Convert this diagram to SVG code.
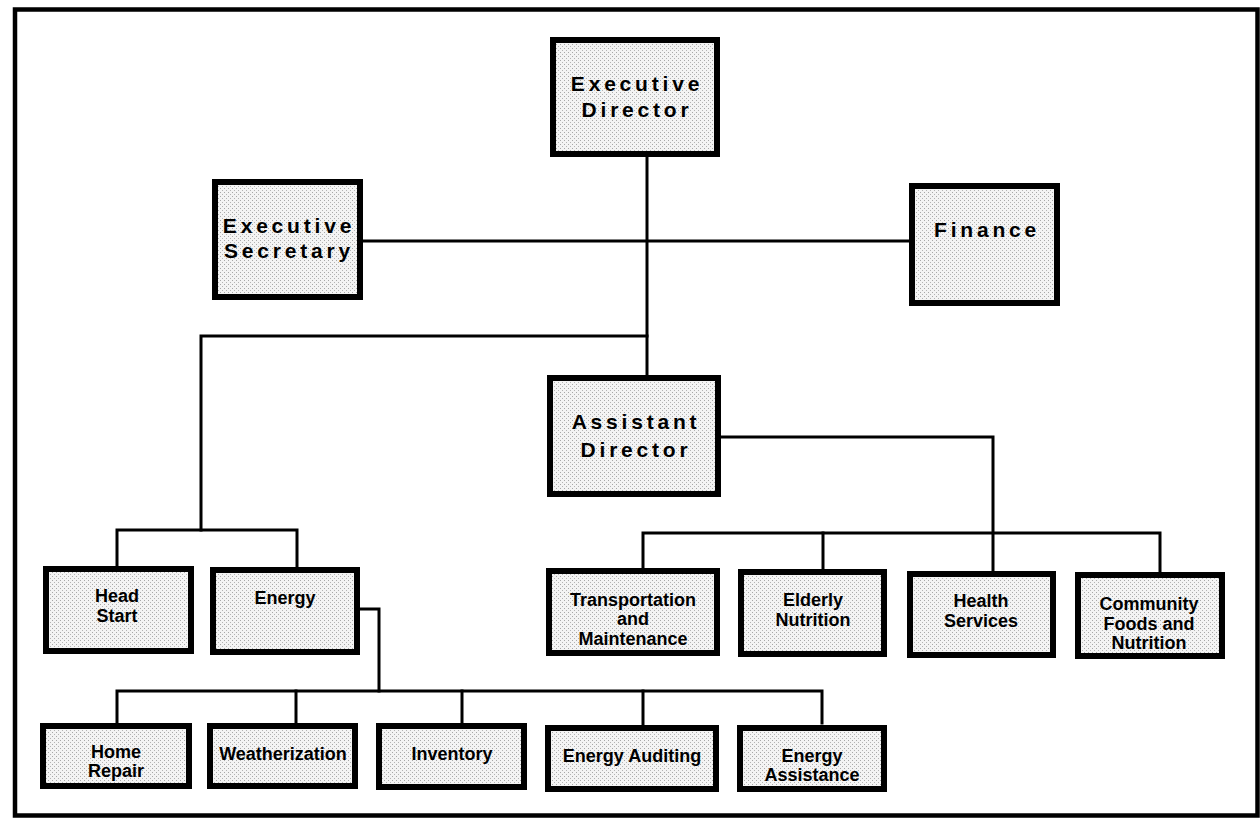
<svg xmlns="http://www.w3.org/2000/svg" width="1260" height="818" viewBox="0 0 1260 818">
<style>
.box{fill:url(#stip);stroke:#000;stroke-width:6}
.frame{fill:none;stroke:#000;stroke-width:4.5}
.conn{fill:none;stroke:#000;stroke-width:3;stroke-linejoin:miter;stroke-linecap:square}
.big{font-family:"Liberation Sans",Arial,sans-serif;font-weight:bold;font-size:21px;letter-spacing:3.8px;text-anchor:middle;fill:#000}
.sm{font-family:"Liberation Sans",Arial,sans-serif;font-weight:bold;font-size:18px;text-anchor:middle;fill:#000}
</style>
<defs>
<pattern id="stip" width="4" height="4" patternUnits="userSpaceOnUse">
<rect width="4" height="4" fill="#f4f4f4"/>
<rect x="0" y="0" width="1" height="1" fill="#a8a8a8"/>
<rect x="2" y="2" width="1" height="1" fill="#b4b4b4"/>
</pattern>
</defs>
<rect width="1260" height="818" fill="#fff"/>
<rect class="frame" x="15" y="9.5" width="1242.5" height="806"/>
<g id="connectors">
<path class="conn" d="M647 157 V375"/>
<path class="conn" d="M363 241 H909"/>
<path class="conn" d="M647 336 H201 V530"/>
<path class="conn" d="M117 566 V530 H297 V567"/>
<path class="conn" d="M360 609 H379 V691"/>
<path class="conn" d="M117 723 V691 H822 V723"/>
<path class="conn" d="M296 691 V723"/>
<path class="conn" d="M462 691 V723"/>
<path class="conn" d="M643 691 V725"/>
<path class="conn" d="M721 437 H993 V571"/>
<path class="conn" d="M643 568 V533 H1160 V572"/>
<path class="conn" d="M823 533 V569"/>
</g>
<g id="executive-director">
<rect class="box" x="553" y="40" width="164" height="114"/>
<text class="big" x="637" y="91">Executive</text>
<text class="big" x="637" y="117">Director</text>
</g>
<g id="executive-secretary">
<rect class="box" x="215" y="182" width="145" height="115"/>
<text class="big" x="289" y="233">Executive</text>
<text class="big" x="289" y="258">Secretary</text>
</g>
<g id="finance">
<rect class="box" x="912" y="186" width="145" height="117"/>
<text class="big" x="987" y="237">Finance</text>
</g>
<g id="assistant-director">
<rect class="box" x="550" y="378" width="168" height="116"/>
<text class="big" x="636" y="429">Assistant</text>
<text class="big" x="636" y="457">Director</text>
</g>
<g id="head-start">
<rect class="box" x="46" y="569" width="145" height="82"/>
<text class="sm" x="117" y="602">Head</text>
<text class="sm" x="117" y="622">Start</text>
</g>
<g id="energy">
<rect class="box" x="213" y="570" width="144" height="82"/>
<text class="sm" x="285" y="604">Energy</text>
</g>
<g id="transportation">
<rect class="box" x="549" y="571" width="168" height="82"/>
<text class="sm" x="633" y="606">Transportation</text>
<text class="sm" x="633" y="625">and</text>
<text class="sm" x="633" y="645">Maintenance</text>
</g>
<g id="elderly-nutrition">
<rect class="box" x="741" y="572" width="143" height="82"/>
<text class="sm" x="813" y="606">Elderly</text>
<text class="sm" x="813" y="626">Nutrition</text>
</g>
<g id="health-services">
<rect class="box" x="910" y="574" width="143" height="81"/>
<text class="sm" x="981" y="607">Health</text>
<text class="sm" x="981" y="627">Services</text>
</g>
<g id="community-foods">
<rect class="box" x="1078" y="575" width="144" height="81"/>
<text class="sm" x="1149" y="610">Community</text>
<text class="sm" x="1149" y="630">Foods and</text>
<text class="sm" x="1149" y="649">Nutrition</text>
</g>
<g id="home-repair">
<rect class="box" x="43" y="726" width="146" height="60"/>
<text class="sm" x="116" y="758">Home</text>
<text class="sm" x="116" y="777">Repair</text>
</g>
<g id="weatherization">
<rect class="box" x="210" y="726" width="145" height="60"/>
<text class="sm" x="283" y="760">Weatherization</text>
</g>
<g id="inventory">
<rect class="box" x="379" y="726" width="145" height="61"/>
<text class="sm" x="452" y="760">Inventory</text>
</g>
<g id="energy-auditing">
<rect class="box" x="548" y="728" width="168" height="61"/>
<text class="sm" x="632" y="762">Energy Auditing</text>
</g>
<g id="energy-assistance">
<rect class="box" x="740" y="728" width="144" height="61"/>
<text class="sm" x="812" y="762">Energy</text>
<text class="sm" x="812" y="781">Assistance</text>
</g>
</svg>
